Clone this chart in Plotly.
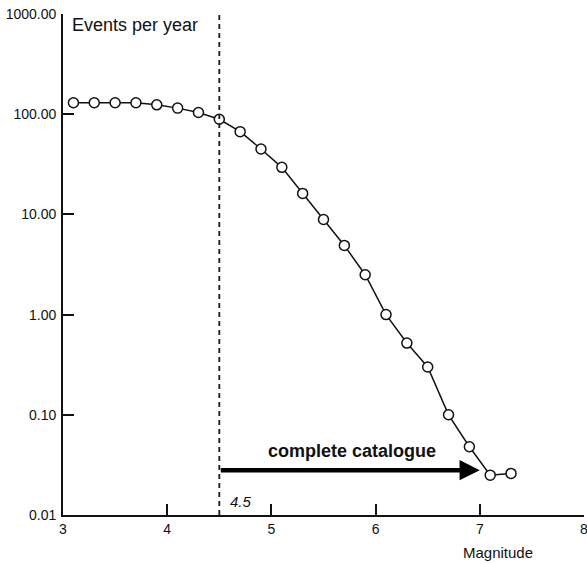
import math
import plotly.graph_objects as go

# Annual event rate by magnitude bin
magnitude = [3.1, 3.3, 3.5, 3.7, 3.9, 4.1, 4.3, 4.5, 4.7, 4.9, 5.1,
             5.3, 5.5, 5.7, 5.9, 6.1, 6.3, 6.5, 6.7, 6.9, 7.1, 7.3]
events_per_year = [130, 130, 130, 130, 124, 115, 104, 89, 67, 45, 29.5,
                   16.2, 8.9, 4.9, 2.5, 1.0, 0.52, 0.30, 0.10, 0.048, 0.025, 0.026]

x_ticks = [3, 4, 5, 6, 7, 8]
y_ticks = [0.01, 0.1, 1, 10, 100, 1000]
y_tick_text = ["0.01", "0.10", "1.00", "10.00", "100.00", "1000.00"]

completeness_mag = 4.5
catalogue_end_mag = 7.0
arrow_level = 0.028
catalogue_label_mag = 5.77
catalogue_label_level = 0.044

FONT = "Liberation Sans, Arial, Helvetica, sans-serif"
INK = "#111111"

fig = go.Figure()

fig.add_trace(go.Scatter(
    x=magnitude, y=events_per_year, mode="lines+markers",
    line=dict(color=INK, width=1.5),
    marker=dict(symbol="circle", size=10, color="white",
                line=dict(color=INK, width=1.5)),
    showlegend=False, hoverinfo="x+y",
))

# Completeness threshold
fig.add_shape(type="line", xref="x", yref="paper",
              x0=completeness_mag, x1=completeness_mag, y0=0, y1=1,
              line=dict(color="#222222", width=1.9, dash="5px,4px"))

annotations = [
    dict(x=catalogue_end_mag, y=math.log10(arrow_level), xref="x", yref="y",
         ax=completeness_mag, ay=math.log10(arrow_level), axref="x", ayref="y",
         showarrow=True, arrowhead=2, arrowsize=0.9, arrowwidth=4.5,
         arrowcolor="black", text=""),
    dict(x=catalogue_label_mag, y=math.log10(catalogue_label_level),
         xref="x", yref="y", text="<b>complete catalogue</b>", showarrow=False,
         font=dict(family=FONT, size=18, color=INK)),
    dict(x=3.07, y=0.978, xref="x", yref="paper", xanchor="left", yanchor="middle",
         text="Events per year", showarrow=False,
         font=dict(family=FONT, size=18, color=INK)),
    dict(x=completeness_mag, y=0.005, xref="x", yref="paper",
         xanchor="left", yanchor="bottom", xshift=9,
         text="<i>4.5</i>", showarrow=False,
         font=dict(family=FONT, size=15, color=INK)),
    dict(x=7.17, y=-0.075, xref="x", yref="paper", yanchor="middle",
         text="Magnitude", showarrow=False,
         font=dict(family=FONT, size=15, color=INK)),
]

fig.update_layout(
    width=587, height=564,
    margin=dict(l=63, r=3, t=14, b=49, autoexpand=False),
    paper_bgcolor="white", plot_bgcolor="white",
    font=dict(family=FONT, size=14, color=INK),
    annotations=annotations,
    xaxis=dict(range=[3, 8], tickvals=x_ticks, ticks="inside", ticklen=11,
               tickwidth=2, tickcolor=INK, showline=True, linecolor=INK,
               linewidth=1.8, showgrid=False, zeroline=False,
               ticklabeloverflow="allow",
               tickfont=dict(family=FONT, size=14, color=INK)),
    yaxis=dict(type="log", range=[-2, 3], tickvals=y_ticks, ticktext=y_tick_text,
               ticks="inside", ticklen=11, tickwidth=2, tickcolor=INK,
               showline=True, linecolor=INK, linewidth=1.8, showgrid=False,
               zeroline=False, ticklabelstandoff=2,
               tickfont=dict(family=FONT, size=14, color=INK)),
)

fig.write_html("out.html")
